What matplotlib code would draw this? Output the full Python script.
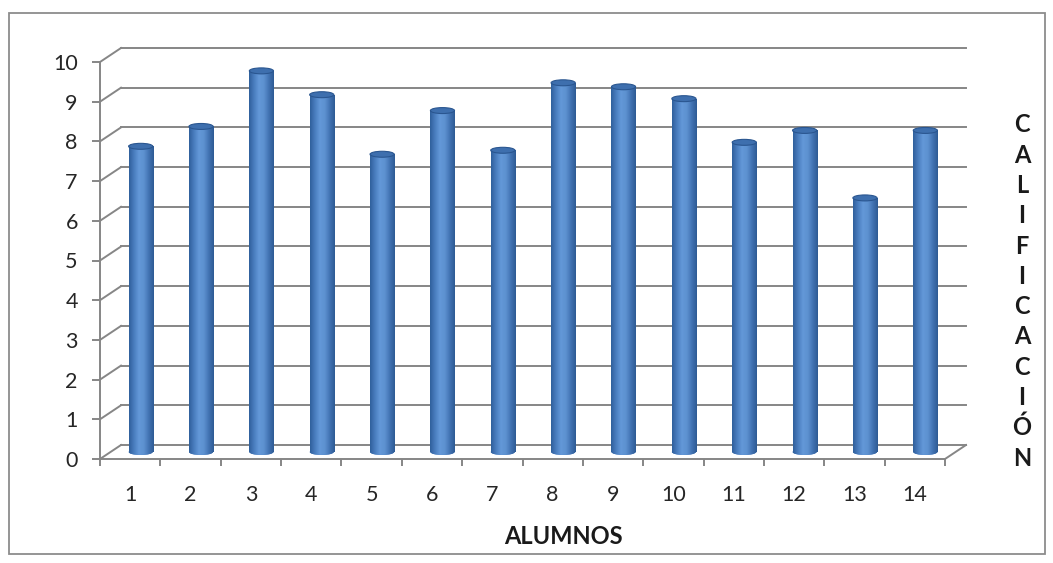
import numpy as np
import matplotlib
matplotlib.use('Agg')
import matplotlib.pyplot as plt
from matplotlib.patches import Ellipse, Rectangle
from matplotlib.colors import LinearSegmentedColormap

alumnos = list(range(1, 14 + 1))
calificacion = [7.7, 8.2, 9.6, 9.0, 7.5, 8.6, 7.6, 9.3, 9.2, 8.9, 7.8, 8.1, 6.4, 8.1]
yticks = list(range(0, 11))
titulo_y = "CALIFICACIÓN"
titulo_x = "ALUMNOS"

plt.rcParams['font.family'] = ['Lato', 'DejaVu Sans']

fig = plt.figure(figsize=(10.53, 5.63), dpi=100)
W, H = 1053, 563
# front frame of the plot, in pixels
left, right, top, bottom = 100, 945, 62, 459
ax = fig.add_axes([left / W, 1 - bottom / H, (right - left) / W, (bottom - top) / H])

# outer chart border
fig.patches.append(Rectangle((9 / W, 1 - 554 / H), 1036 / W, 541 / H, transform=fig.transFigure,
                             fill=False, edgecolor='#8c8c8c', lw=1.3))

n = len(alumnos)
x0, x1 = 0.5, n + 0.5
# 3d depth offset in data units
dx = 21 / ((right - left) / n)
dy = 14 / ((bottom - top) / 10)
grid_c = '#868686'

for v in yticks:
    ax.plot([x0 + dx, x1 + dx], [v + dy, v + dy], color=grid_c, lw=1.4, zorder=1, clip_on=False)
    ax.plot([x0, x0 + dx], [v, v + dy], color=grid_c, lw=1.4, zorder=1, clip_on=False)
ax.plot([x1, x1 + dx], [0, dy], color=grid_c, lw=1.4, zorder=1, clip_on=False)

cmap = LinearSegmentedColormap.from_list('cyl', ['#30609c', '#4a7ebf', '#6398d8', '#5d91d0', '#4273b3', '#2e5b94'])
grad = np.linspace(0, 1, 64).reshape(1, -1)
w = 0.40
eh = 0.15
for i, val in enumerate(calificacion):
    xc = alumnos[i] + dx / 2
    yb = dy / 2
    bars = ax.bar(xc, val, bottom=yb, width=w, color='#4a7dbf', lw=0, zorder=3, clip_on=False)
    im = ax.imshow(grad, cmap=cmap, aspect='auto', extent=[xc - w / 2, xc + w / 2, yb, yb + val],
                   zorder=3.1, interpolation='bilinear')
    im.set_clip_path(bars[0])
    be = Ellipse((xc, yb), w, eh, facecolor='#4a7dbf', lw=0, zorder=3)
    ax.add_patch(be)
    im2 = ax.imshow(grad, cmap=cmap, aspect='auto', extent=[xc - w / 2, xc + w / 2, yb - eh / 2, yb],
                    zorder=3.1, interpolation='bilinear')
    im2.set_clip_path(be)
    ax.add_patch(Ellipse((xc, yb + val), w, eh, facecolor='#3e6fae', edgecolor='#2a5690',
                         lw=0.8, zorder=4))

ax.set_xlim(x0, x1)
ax.set_ylim(0, 10)
for s in ['top', 'right']:
    ax.spines[s].set_visible(False)
for s in ['left', 'bottom']:
    ax.spines[s].set_color(grid_c)
    ax.spines[s].set_linewidth(1.4)
ax.set_yticks(yticks)
ax.set_yticklabels([str(v) for v in yticks], fontsize=15.5, color='#262626')
ax.set_xticks(alumnos)
ax.set_xticklabels([str(a) for a in alumnos], fontsize=15.5, color='#262626')
ax.set_xticks(np.arange(x0, x1 + 0.01, 1), minor=True)
ax.tick_params(axis='x', which='major', length=0, pad=19)
ax.tick_params(axis='x', which='minor', length=5, width=1.4, color=grid_c)
ax.tick_params(axis='y', length=6, width=1.4, color=grid_c, pad=10)
ax.patch.set_alpha(0)

fig.text(563 / W, 1 - 536 / H, titulo_x, ha='center', va='center', fontsize=17, fontweight='bold',
         color='#1a1a1a')
ys = np.linspace(125, 458, len(titulo_y))
for ch, yy in zip(titulo_y, ys):
    fig.text(1022 / W, 1 - yy / H, ch, ha='center', va='center', fontsize=17, fontweight='bold',
             color='#1a1a1a')

fig.savefig('out.png', dpi=100, facecolor='white')
